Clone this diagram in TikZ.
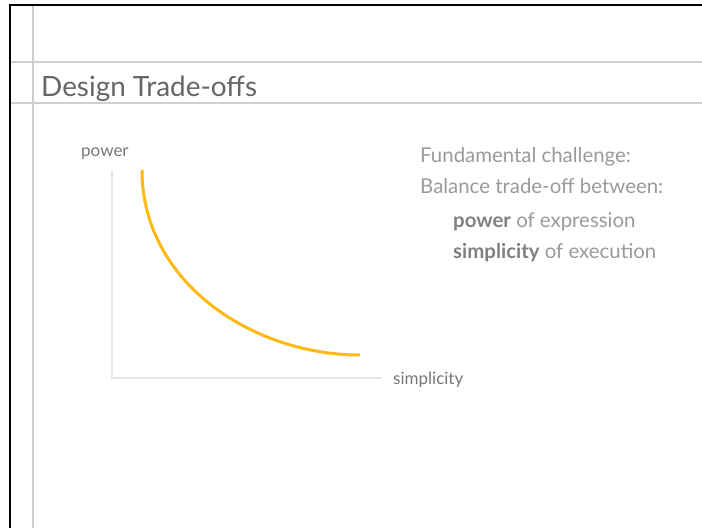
\documentclass[tikz,border=0pt]{standalone}
\usepackage{fontspec}
\setmainfont{Lato}
\definecolor{titlegray}{HTML}{666666}
\definecolor{labelgray}{HTML}{777777}
\definecolor{textgray}{HTML}{9A9A9A}
\definecolor{boldgray}{HTML}{808080}
\definecolor{rulegray}{HTML}{CFCFCF}
\definecolor{axisgray}{HTML}{E6E6E6}
\definecolor{curveorange}{HTML}{FCBA12}
\begin{document}
\begin{tikzpicture}[x=1pt,y=-1pt,
  rule/.style={draw=rulegray,line width=1.3pt},
  axis/.style={draw=axisgray,line width=2.5pt},
  bodytext/.style={anchor=base west,inner sep=0pt,text=textgray,font=\fontsize{20.4}{23}\selectfont},
  axislabel/.style={anchor=base west,inner sep=0pt,text=labelgray,font=\fontsize{17}{20}\selectfont}]
\useasboundingbox (0,0) rectangle (702,528);
\fill[white] (0,0) rectangle (702,528);
% slide frame lines
\draw[rule] (10,62) -- (702,62);
\draw[rule] (10,103) -- (702,103);
\draw[rule] (33,5) -- (33,528);
\draw[black,line width=2.6pt] (10,528) -- (10,5) -- (702,5);
% title
\node[anchor=base west,inner sep=0pt,text=titlegray,font=\fontsize{27.9}{31}\selectfont] (title) at (41,96) {Design Trade-offs};
% axes
\coordinate (ytop) at (112,171);
\coordinate (origin) at (112,378);
\coordinate (xend) at (382,378);
\draw[axis] (ytop) -- (origin) -- (xend);
\node[axislabel] (power) at (81,156) {power};
\node[axislabel] (simp) at (393,384) {simplicity};
% curve
\coordinate (cstart) at (142,170);
\coordinate (cend) at (360,355);
\draw[curveorange,line width=3pt] (cstart) .. controls (142,282) and (252,355) .. (cend);
% text
\node[bodytext] (l1) at (420,162) {Fundamental challenge:};
\node[bodytext] (l2) at (420,193) {Balance trade-off between:};
\node[bodytext] (l3) at (453,227) {\textcolor{boldgray}{\bfseries power} of expression};
\node[bodytext] (l4) at (453,258) {\textcolor{boldgray}{\bfseries simplicity} of execution};
\end{tikzpicture}
\end{document}
